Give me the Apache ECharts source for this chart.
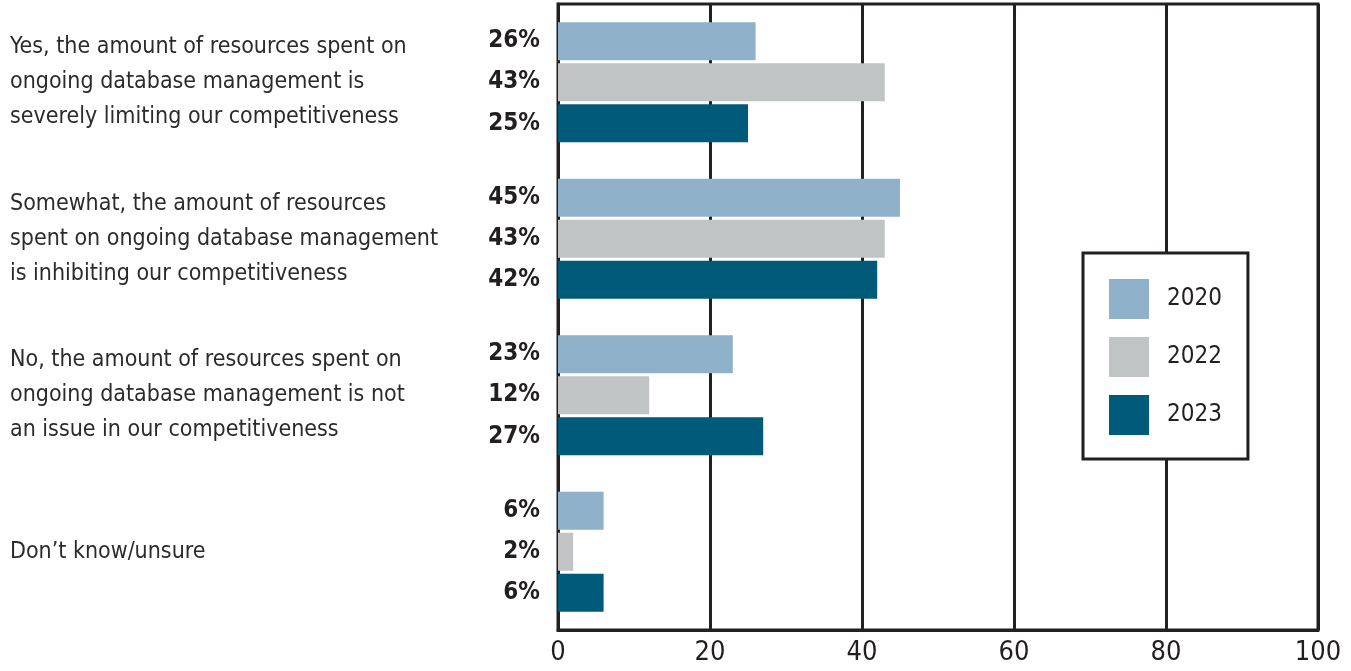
<!DOCTYPE html>
<html>
<head>
<meta charset="utf-8">
<script src="https://cdn.jsdelivr.net/npm/echarts@6/dist/echarts.min.js"></script>
<style>
  html, body { margin: 0; padding: 0; background: #fff; }
  #chart { width: 1351px; height: 671px; }
</style>
</head>
<body>
<div id="chart"></div>
<script>
// Survey answers (top to bottom) and share of respondents per year, in percent
const categories = [
  'Yes, the amount of resources spent on\nongoing database management is\nseverely limiting our competitiveness',
  'Somewhat, the amount of resources\nspent on ongoing database management\nis inhibiting our competitiveness',
  'No, the amount of resources spent on\nongoing database management is not\nan issue in our competitiveness',
  'Don\u2019t know/unsure'
];
const years = ['2020', '2022', '2023'];
const values2020 = [26, 45, 23, 6];
const values2022 = [43, 43, 12, 2];
const values2023 = [25, 42, 27, 6];
const xTicks = [0, 20, 40, 60, 80, 100];

const FONT = "'Liberation Sans Narrow', 'DejaVu Sans Condensed', 'Roboto', sans-serif";
const INK = '#231f20';
const colors = ['#8fb2ca', '#c0c4c5', '#005a7a'];

function barSeries(name, data, color) {
  return {
    name: name,
    type: 'bar',
    data: data,
    barWidth: 38,
    barGap: '8%',
    itemStyle: { color: color },
    label: {
      show: true,
      position: 'left',
      distance: 18,
      formatter: '{c}%',
      fontFamily: FONT,
      fontWeight: 'bold',
      fontSize: 24,
      color: INK
    }
  };
}

const chart = echarts.init(document.getElementById('chart'), null, { renderer: 'canvas' });
chart.setOption({
  animation: false,
  backgroundColor: '#fff',
  grid: {
    left: 558, right: 33, top: 4, bottom: 41,
    show: true, borderColor: INK, borderWidth: 3, backgroundColor: 'transparent'
  },
  xAxis: {
    type: 'value',
    min: xTicks[0],
    max: xTicks[xTicks.length - 1],
    interval: 20,
    axisLine: { show: true, lineStyle: { color: INK, width: 3 } },
    axisTick: { show: false },
    splitLine: { show: true, lineStyle: { color: INK, width: 3 } },
    axisLabel: { fontFamily: FONT, fontSize: 27, color: INK, margin: 9 }
  },
  yAxis: {
    type: 'category',
    data: categories,
    inverse: true,
    axisLine: { show: true, lineStyle: { color: INK, width: 3 } },
    axisTick: { show: false },
    axisLabel: {
      align: 'left',
      margin: 548,
      fontFamily: FONT,
      fontSize: 23,
      lineHeight: 35,
      color: '#2b2b2b'
    }
  },
  legend: {
    data: years,
    orient: 'vertical',
    left: 1083,
    top: 253,
    itemWidth: 40,
    itemHeight: 40,
    itemGap: 18,
    padding: [26, 26, 24, 26],
    borderColor: INK,
    borderWidth: 3,
    backgroundColor: '#fff',
    icon: 'rect',
    textStyle: { fontFamily: FONT, fontSize: 24, color: INK, padding: [0, 0, 0, 13] }
  },
  series: [
    barSeries(years[0], values2020, colors[0]),
    barSeries(years[1], values2022, colors[1]),
    barSeries(years[2], values2023, colors[2])
  ]
});
</script>
</body>
</html>
